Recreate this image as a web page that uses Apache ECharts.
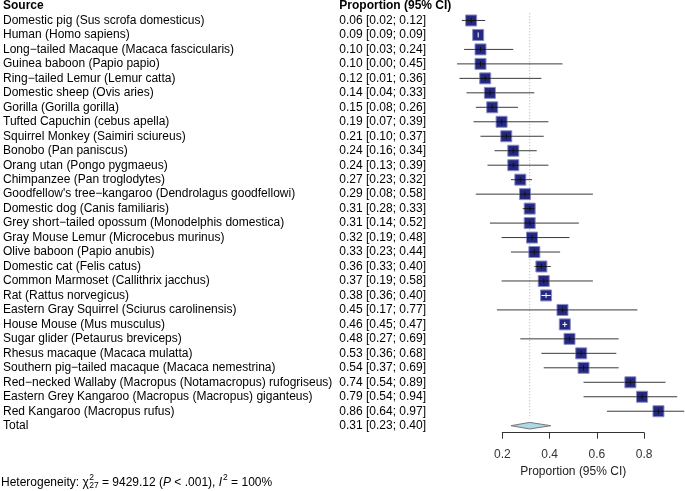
<!DOCTYPE html>
<html><head><meta charset="utf-8">
<script src="https://cdn.jsdelivr.net/npm/echarts@6/dist/echarts.min.js"></script>
<style>html,body{margin:0;padding:0;background:#fff}#c{width:685px;height:491px}</style>
</head><body><div id="c"></div>
<script>
const species = [
 "Domestic pig (Sus scrofa domesticus)",
 "Human (Homo sapiens)",
 "Long\u2212tailed Macaque (Macaca fascicularis)",
 "Guinea baboon (Papio papio)",
 "Ring\u2212tailed Lemur (Lemur catta)",
 "Domestic sheep (Ovis aries)",
 "Gorilla (Gorilla gorilla)",
 "Tufted Capuchin (cebus apella)",
 "Squirrel Monkey (Saimiri sciureus)",
 "Bonobo (Pan paniscus)",
 "Orang utan (Pongo pygmaeus)",
 "Chimpanzee (Pan troglodytes)",
 "Goodfellow's tree\u2212kangaroo (Dendrolagus goodfellowi)",
 "Domestic dog (Canis familiaris)",
 "Grey short\u2212tailed opossum (Monodelphis domestica)",
 "Gray Mouse Lemur (Microcebus murinus)",
 "Olive baboon (Papio anubis)",
 "Domestic cat (Felis catus)",
 "Common Marmoset (Callithrix jacchus)",
 "Rat (Rattus norvegicus)",
 "Eastern Gray Squirrel (Sciurus carolinensis)",
 "House Mouse (Mus musculus)",
 "Sugar glider (Petaurus breviceps)",
 "Rhesus macaque (Macaca mulatta)",
 "Southern pig\u2212tailed macaque (Macaca nemestrina)",
 "Red\u2212necked Wallaby (Macropus (Notamacropus) rufogriseus)",
 "Eastern Grey Kangaroo (Macropus (Macropus) giganteus)",
 "Red Kangaroo (Macropus rufus)"
];
const est = [0.06,0.09,0.10,0.10,0.12,0.14,0.15,0.19,0.21,0.24,0.24,0.27,0.29,0.31,0.31,0.32,0.33,0.36,0.37,0.38,0.45,0.46,0.48,0.53,0.54,0.74,0.79,0.86];
const lo  = [0.02,0.09,0.03,0.00,0.01,0.04,0.08,0.07,0.10,0.16,0.13,0.23,0.08,0.28,0.14,0.19,0.23,0.33,0.19,0.36,0.17,0.45,0.27,0.36,0.37,0.54,0.54,0.64];
const hi  = [0.12,0.09,0.24,0.45,0.36,0.33,0.26,0.39,0.37,0.34,0.39,0.32,0.58,0.33,0.52,0.48,0.44,0.40,0.58,0.40,0.77,0.47,0.69,0.68,0.69,0.89,0.94,0.97];
const totalEst = 0.31, totalLo = 0.23, totalHi = 0.40;
const xTicks = [0.2, 0.4, 0.6, 0.8];
const header = ["Source", "Proportion (95% CI)"];
const totalLabel = "Total";

const cats = [header[0]].concat(species, [totalLabel]);
const fmt = (e,l,h) => e.toFixed(2) + " [" + l.toFixed(2) + "; " + h.toFixed(2) + "]";
const vals = [header[1]].concat(est.map((e,i)=>fmt(e,lo[i],hi[i])), [fmt(totalEst,totalLo,totalHi)]);

const FONT = '"Liberation Sans", Arial, Helvetica, sans-serif';
const chart = echarts.init(document.getElementById('c'), null, {renderer:'canvas'});

// layout: pixels per unit proportion, origin of the scale
const PXU = 236.2, X0 = 455.1, W = 685 - X0;
const XMAX = W / PXU;

const studyData = est.map((e,i)=>[e, i+1, lo[i], hi[i]]);
const SQ = 11;

function studyItem(params, api){
  const idx = api.value(1);
  const y = api.coord([0, idx])[1];
  const xs = api.coord([api.value(0), idx])[0];
  const xl = api.coord([api.value(2), idx])[0];
  const xh = api.coord([api.value(3), idx])[0];
  const h = SQ/2;
  const inside = xl >= xs - h && xh <= xs + h;
  const inCol = inside ? '#ffffff' : '#111111';
  const a = Math.max(xl, xs - h), b = Math.min(xh, xs + h);
  return {type:'group', children:[
    {type:'line', shape:{x1:xl,y1:y,x2:xh,y2:y}, style:{stroke:'#3a3a3a',lineWidth:1}},
    {type:'rect', shape:{x:xs-h,y:y-h,width:SQ,height:SQ}, style:{fill:'#242880',stroke:'#8a8dc6',lineWidth:1}},
    {type:'line', shape:{x1:a,y1:y,x2:b,y2:y}, style:{stroke:inCol,lineWidth:1}},
    {type:'line', shape:{x1:xs,y1:y-2.5,x2:xs,y2:y+2.5}, style:{stroke:inCol,lineWidth:1}}
  ]};
}
function totalItem(params, api){
  const idx = api.value(1);
  const y = api.coord([0, idx])[1];
  const xs = api.coord([api.value(0), idx])[0];
  const xl = api.coord([api.value(2), idx])[0];
  const xh = api.coord([api.value(3), idx])[0];
  const y0 = api.coord([0,0])[1], y1 = api.coord([0,1])[1];
  const step = y1 - y0;
  return {type:'group', children:[
    {type:'line', shape:{x1:xs,y1:y0+0.5*step,x2:xs,y2:y-0.5*step}, style:{stroke:'#b0b0b0',lineWidth:1,lineDash:[1,2]}},
    {type:'polygon', shape:{points:[[xl,y],[xs,y-3.3],[xh,y],[xs,y+3.3]]}, style:{fill:'#add8e6',stroke:'#777',lineWidth:1}}
  ]};
}

const option = {
  animation:false,
  backgroundColor:'#fff',
  textStyle:{fontFamily:FONT},
  grid:[
    {left:X0, top:4.8, width:W, height:420.9, containLabel:false},
    {left:X0 + xTicks[0]*PXU, top:431.7, width:(xTicks[xTicks.length-1]-xTicks[0])*PXU, height:1, containLabel:false}
  ],
  xAxis:[
    {gridIndex:0, type:'value', min:0, max:XMAX, show:false},
    {gridIndex:1, type:'value', min:xTicks[0], max:xTicks[xTicks.length-1], interval:0.2, position:'bottom',
     axisLine:{show:true, lineStyle:{color:'#333', width:1}},
     axisTick:{show:true, length:6, lineStyle:{color:'#333'}},
     axisLabel:{fontSize:12, color:'#333', margin:16, fontFamily:FONT, formatter:v=>v.toFixed(1)},
     splitLine:{show:false},
     name:'Proportion (95% CI)', nameLocation:'middle', nameGap:33,
     nameTextStyle:{fontSize:12, color:'#222', fontFamily:FONT}
    }
  ],
  yAxis:[
    {gridIndex:0, type:'category', data:cats, inverse:true, boundaryGap:false,
     axisLine:{show:false}, axisTick:{show:false}, splitLine:{show:false},
     axisLabel:{interval:0, align:'left', margin:454.1, color:'#000', fontFamily:FONT, fontSize:12,
       formatter:(v,i)=> i===0 ? '{hn|'+v+'}{hv|'+vals[i]+'}' : '{n|'+v+'}{v|'+vals[i]+'}',
       rich:{
         n:{width:336.3, fontSize:12, color:'#000', fontFamily:FONT, align:'left'},
         v:{fontSize:12, color:'#000', fontFamily:FONT, align:'left'},
         hn:{width:336.3, fontSize:12, fontWeight:'bold', color:'#000', fontFamily:FONT, align:'left'},
         hv:{fontSize:12, fontWeight:'bold', color:'#000', fontFamily:FONT, align:'left'}
       }}
    },
    {gridIndex:1, type:'value', show:false}
  ],
  series:[
    {type:'custom', xAxisIndex:0, yAxisIndex:0, renderItem:totalItem, clip:false,
     data:[[totalEst, cats.length-1, totalLo, totalHi]], encode:{x:0,y:1}, z:1},
    {type:'custom', xAxisIndex:0, yAxisIndex:0, renderItem:studyItem, clip:false,
     data:studyData, encode:{x:0,y:1}, z:2}
  ]
};
chart.setOption(option);

// Heterogeneity footnote
const cv = document.createElement('canvas').getContext('2d');
function mw(t, f){ cv.font = f; return cv.measureText(t).width; }
const F12 = '12px ' + FONT, F12i = 'italic 12px ' + FONT, F8 = '8.5px ' + FONT;
const yB = 482.5;
let x = 1;
const els = [];
function add(t, dy, fs, italic){
  els.push({type:'text', x:x, y:yB+dy, style:{text:t, fontSize:fs, fontStyle:italic?'italic':'normal', fontFamily:FONT, fill:'#000', verticalAlign:'middle'}});
}
const t1 = 'Heterogeneity: \u03c7';
add(t1, 0, 12); x += mw(t1, F12) + 0.5;
add('2', -4.5, 8.5); add('27', 3.5, 8.5); x += mw('27', F8);
const t3 = ' = 9429.12 (';
add(t3, 0, 12); x += mw(t3, F12);
add('P', 0, 12, true); x += mw('P', F12i);
const t5 = ' < .001), ';
add(t5, 0, 12); x += mw(t5, F12);
add('I', 0, 12, true); x += mw('I', F12i) + 1;
add('2', -4.5, 8.5); x += mw('2', F8);
add(' = 100%', 0, 12);
chart.setOption({graphic:{elements:els}});
</script></body></html>
